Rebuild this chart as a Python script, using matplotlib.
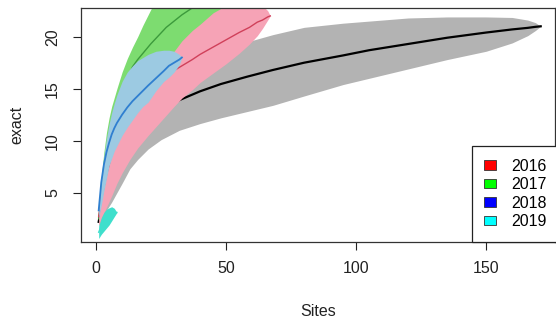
import numpy as np
import matplotlib.pyplot as plt
from matplotlib.patches import Patch

plt.rcParams['font.family'] = ['Liberation Sans', 'DejaVu Sans']

# all sites (black line, grey band)
sites_all = [1, 2, 3, 4, 6, 8, 10, 13, 16, 20, 25, 32, 40, 48, 58, 68, 80, 95, 105, 120, 135, 150, 160, 166, 169, 171]
rich_all = [2.2, 3.5, 4.6, 5.4, 6.8, 7.9, 8.8, 9.9, 10.8, 11.8, 12.8, 13.9, 14.75, 15.45, 16.15, 16.8, 17.5, 18.2,
            18.7, 19.3, 19.9, 20.4, 20.7, 20.85, 20.95, 21.0]
lower_all = [1.8, 2.3, 2.8, 3.3, 4.1, 5.0, 5.9, 7.3, 8.2, 9.2, 10.1, 11.0, 11.65, 12.2, 12.8, 13.4, 14.3, 15.4,
             16.0, 16.9, 17.8, 18.6, 19.4, 20.1, 20.6, 21.0]
upper_all = [2.9, 4.8, 6.2, 7.4, 9.2, 10.6, 11.7, 12.6, 13.5, 14.5, 15.6, 16.9, 17.9, 18.7, 19.5, 20.2, 20.9, 21.3,
             21.5, 21.8, 21.9, 21.9, 21.85, 21.6, 21.35, 21.0]

# 2016
sites_16 = [1, 2, 3, 4, 6, 8, 10, 13, 16, 20, 25, 30, 33, 37, 40, 45, 50, 55, 59, 62, 64, 66, 67]
rich_16 = [2.7, 4.3, 5.5, 6.7, 8.6, 9.9, 10.8, 12.0, 12.9, 14.1, 15.7, 16.75, 17.2, 17.8, 18.3, 19.0, 19.7, 20.4,
           20.9, 21.4, 21.6, 21.9, 22.0]
lower_16 = [1.8, 2.5, 3.1, 3.6, 4.7, 5.9, 6.9, 8.2, 9.3, 10.5, 11.9, 13.3, 14.1, 14.9, 15.6, 16.5, 17.4, 18.4,
            19.3, 20.1, 20.8, 21.6, 22.0]
upper_16 = [2.8, 4.5, 6.0, 7.3, 9.5, 11.1, 12.5, 13.9, 15.1, 16.3, 17.6, 18.6, 19.6, 20.6, 21.2, 22.3, 23.0, 23.4,
            23.5, 23.3, 23.0, 22.5, 22.0]

# 2017
sites_17 = [1, 2, 3, 4, 5, 6, 8, 10, 12, 14, 16, 18, 21, 24, 27, 30, 33, 36, 40, 44, 48]
rich_17 = [2.5, 4.6, 6.3, 7.9, 9.3, 10.5, 12.6, 14.3, 15.8, 17.1, 17.8, 18.4, 19.3, 20.1, 20.9, 21.5, 22.1, 22.6,
           23.3, 23.9, 24.5]
lower_17 = [2.0, 3.6, 5.0, 6.1, 7.0, 7.8, 9.2, 10.5, 11.4, 12.2, 13.0, 13.6, 14.5, 15.3, 16.1, 16.8, 17.4, 18.0,
            18.7, 19.4, 20.0]
upper_17 = [3.5, 6.5, 8.9, 10.8, 12.2, 13.3, 15.0, 16.6, 17.9, 19.0, 20.0, 21.1, 22.6, 23.9, 24.9, 26.0, 26.8, 27.5,
            28.2, 28.7, 29.0]

# 2018
sites_18 = [1, 2, 3, 4, 5, 6, 7, 8, 10, 12, 14, 16, 18, 20, 23, 26, 28, 30, 32, 33]
rich_18 = [3.3, 6.0, 7.7, 8.9, 9.8, 10.6, 11.2, 11.7, 12.5, 13.2, 13.8, 14.3, 14.8, 15.3, 16.0, 16.7, 17.2, 17.5,
           17.8, 18.0]
lower_18 = [2.6, 3.8, 5.2, 6.4, 7.6, 8.3, 9.0, 9.5, 10.5, 11.3, 12.0, 12.7, 13.3, 13.7, 14.8, 15.7, 16.1, 16.6,
            17.3, 18.0]
upper_18 = [3.4, 6.2, 8.5, 10.2, 11.6, 12.7, 13.6, 14.4, 15.7, 16.6, 17.2, 17.7, 18.0, 18.3, 18.6, 18.7, 18.7, 18.6,
            18.3, 18.0]

# 2019
sites_19 = [1, 2, 3, 4, 5, 6, 7, 8]
rich_19 = [1.2, 1.8, 2.2, 2.5, 2.8, 3.0, 3.1, 3.1]
lower_19 = [0.6, 1.0, 1.3, 1.6, 1.9, 2.3, 2.7, 3.1]
upper_19 = [1.8, 2.6, 3.1, 3.4, 3.55, 3.65, 3.5, 3.1]

years = ['2016', '2017', '2018', '2019']
legend_cols = ['#ff0000', '#00ff00', '#0000ff', '#00ffff']

fig = plt.figure(figsize=(5.56, 3.24), dpi=100)
ax = fig.add_axes([81/556, 82/324, 474/556, 234/324])

# draw order like the original: grey, green, pink, blue, cyan (each band then its line)
series = [
    (sites_all, rich_all, lower_all, upper_all, '#b3b3b3', 'black', 1.6),
    (sites_17, rich_17, lower_17, upper_17, '#7ddc70', '#3c9a3c', 1.0),
    (sites_16, rich_16, lower_16, upper_16, '#f6a3b6', '#d0405a', 1.0),
    (sites_18, rich_18, lower_18, upper_18, '#9ccae2', '#2f7fd0', 1.3),
    (sites_19, rich_19, lower_19, upper_19, '#3fdfcc', '#3fdfcc', 1.0),
]
z = 1
for s, r, lo, up, band, line, lw in series:
    ax.fill_between(s, lo, up, color=band, lw=0, zorder=z)
    ax.plot(s, r, color=line, lw=lw, zorder=z + 0.5)
    z += 1

ax.set_xlim(-5.8, 176.5)
ax.set_ylim(0.26, 22.76)
ax.set_xticks([0, 50, 100, 150])
ax.set_yticks([5, 10, 15, 20])
ax.set_yticklabels(['5', '10', '15', '20'], rotation=90, va='center')
ax.tick_params(length=6, width=0.8, labelsize=11.5, colors='#222222')
ax.tick_params(axis='x', pad=8)
ax.tick_params(axis='y', pad=9)
for sp in ax.spines.values():
    sp.set_color('#333333')
    sp.set_linewidth(0.9)
    sp.set_zorder(10)

fig.text(318/556, 1 - 311/324, 'Sites', ha='center', va='center', fontsize=11.5, color='#222222')
fig.text(17/556, 1 - 125/324, 'exact', ha='center', va='center', rotation=90, fontsize=11.5, color='#222222')

handles = [Patch(facecolor=c, edgecolor='#333333', lw=0.6) for c in legend_cols]
leg = ax.legend(handles, years, loc='lower right', bbox_to_anchor=(1.0085, 0), borderaxespad=0,
                fontsize=11.5, handlelength=0.75, handleheight=0.5, handletextpad=0.9,
                labelspacing=0.22, borderpad=0.8, fancybox=False, framealpha=1)
leg.get_frame().set_edgecolor('#222222')
leg.get_frame().set_linewidth(0.9)
leg.set_zorder(20)

fig.savefig('out.png', dpi=100)
